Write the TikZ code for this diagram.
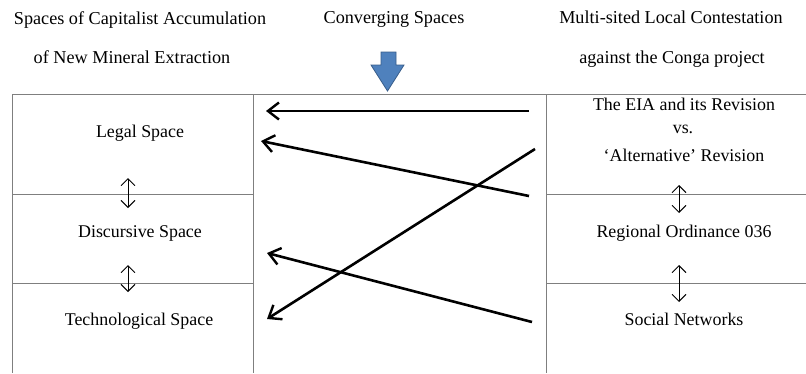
\documentclass[tikz,border=0pt]{standalone}
\usepackage{fontspec}
\setmainfont{Liberation Serif}
\usetikzlibrary{arrows.meta}
\definecolor{gridgray}{HTML}{7F7F7F}
\definecolor{arrowblue}{HTML}{4F81BD}
\definecolor{arrowedge}{HTML}{385D8A}
\tikzset{
  hdr/.style={anchor=base,inner sep=0pt,font=\fontsize{18.2}{21}\selectfont},
  cell/.style={anchor=base,inner sep=0pt,font=\fontsize{17.9}{21}\selectfont},
  grid/.style={draw=gridgray,line width=1pt},
  bigarrow/.style={line width=2.6pt,-{Straight Barb[length=11pt,width=17pt,line width=2.4pt]}},
  dbl/.style={line width=0.9pt,{Straight Barb[length=7pt,width=14pt]}-{Straight Barb[length=7pt,width=14pt]}},
}
\begin{document}
\begin{tikzpicture}[x=1pt,y=-1pt]
\useasboundingbox (0,0) rectangle (806,373);
% headers
\node[hdr] (h1a) at (140,24) {Spaces of Capitalist Accumulation};
\node[hdr] (h1b) at (132,63) {of New Mineral Extraction};
\node[hdr] (h2) at (394,23) {Converging Spaces};
\node[hdr] (h3a) at (671,23) {Multi-sited Local Contestation};
\node[hdr] (h3b) at (672,63) {against the Conga project};
% blue arrow
\filldraw[fill=arrowblue,draw=arrowedge,line width=0.8pt]
  (381,52) -- (396,52) -- (396,65) -- (404,65) -- (387.5,91) -- (371,65) -- (381,65) -- cycle;
% grid
\draw[grid] (12,94.5) -- (806,94.5);
\draw[grid] (12,94) -- (12,373);
\draw[grid] (253.5,94) -- (253.5,373);
\draw[grid] (546.5,94) -- (546.5,373);
\draw[grid] (12,194) -- (253.5,194);
\draw[grid] (12,283) -- (253.5,283);
\draw[grid] (546.5,194) -- (806,194);
\draw[grid] (546.5,283) -- (806,283);
% left cells
\node[cell] (legal) at (140,137) {Legal Space};
\node[cell] (disc) at (140,237) {Discursive Space};
\node[cell] (tech) at (139,325) {Technological Space};
% right cells
\node[cell] (eia1) at (684,110) {The EIA and its Revision};
\node[cell] (eia2) at (683,133) {vs.};
\node[cell] (eia3) at (684,161) {‘Alternative’ Revision};
\node[cell] (ord) at (684,237) {Regional Ordinance 036};
\node[cell] (soc) at (684,325) {Social Networks};
% double arrows
\coordinate (la1) at (128,178); \coordinate (lb1) at (128,208);
\coordinate (la2) at (128,265); \coordinate (lb2) at (128,292);
\coordinate (ra1) at (679,185); \coordinate (rb1) at (679,213);
\coordinate (ra2) at (679,265); \coordinate (rb2) at (679,302);
\draw[dbl] (la1) -- (lb1);
\draw[dbl] (la2) -- (lb2);
\draw[dbl] (ra1) -- (rb1);
\draw[dbl] (ra2) -- (rb2);
% main arrows
\coordinate (s1) at (529,111); \coordinate (e1) at (266,111);
\coordinate (s2) at (529,196); \coordinate (e2) at (261,141);
\coordinate (s3) at (535,149); \coordinate (e3) at (267,319);
\coordinate (s4) at (532,322); \coordinate (e4) at (267,253);
\draw[bigarrow] (s1) -- (e1);
\draw[bigarrow] (s2) -- (e2);
\draw[bigarrow] (s3) -- (e3);
\draw[bigarrow] (s4) -- (e4);
\end{tikzpicture}
\end{document}
